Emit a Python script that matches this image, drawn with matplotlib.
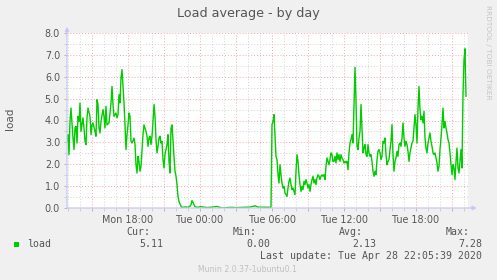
#!/usr/bin/env python3
# -*- coding: utf-8 -*-
"""
Munin style load average graph, by day
"""
import matplotlib
matplotlib.use("Agg")
import matplotlib.pyplot as plt
from matplotlib.ticker import MultipleLocator, FuncFormatter

W, H = 497, 280
START_HOUR = 12 + 55 / 60   # first sample, Mon 12:55
STEP_MIN = 5                # rrd step in minutes
N_STEPS = 401               # width of the graph in steps

# sample number (5 min steps from Mon 12:55) and load value
idx = [0, 1, 2, 3, 4, 6, 7, 8, 9, 10, 11, 12, 13, 14, 16, 17, 18, 19, 20, 21,
       23, 24, 25, 26, 28, 29, 30, 31, 32, 33, 34, 36, 37, 38, 39, 40, 42, 43,
       44, 45, 46, 47, 49, 50, 51, 52, 53, 54, 55, 56, 57, 58, 59, 60, 61, 62,
       63, 64, 65, 67, 68, 69, 70, 71, 72, 73, 74, 75, 76, 77, 79, 80, 81, 82,
       83, 84, 85, 86, 87, 88, 89, 90, 91, 92, 93, 94, 95, 96, 97, 98, 100,
       101, 102, 103, 104, 105, 106, 107, 108, 109, 110, 111, 112, 114, 115,
       119, 121, 123, 124, 125, 127, 128, 130, 134, 140, 145, 150, 155, 163,
       170, 176, 183, 188, 191, 200, 204,
       205, 206, 207, 208, 209, 210, 211, 212, 213, 214, 215, 216, 217, 218,
       219, 220, 221, 222, 223, 224, 225, 226, 227, 228, 229, 230, 231, 232,
       233, 234, 235, 236, 237, 238, 239, 240, 241, 242, 243, 244, 245, 246,
       247, 248, 249, 250, 251, 252, 253, 254, 255, 256, 257, 258, 259, 260,
       261, 262, 263, 264, 265, 266,
       267, 268, 269, 270, 271, 272, 273, 274, 275, 276, 277, 278, 279, 280,
       281, 282, 283, 284, 285, 286, 287, 288, 289, 290, 291, 292, 293, 294,
       295, 296, 297, 298, 299, 300, 301, 302, 303, 304, 305, 306, 307, 308,
       309, 310, 311, 312, 313, 314, 315, 316, 317, 318, 319, 320, 321, 322,
       323, 324, 325, 326, 327, 328, 329, 330, 331, 332, 333, 334, 335, 336,
       337, 338, 339, 340, 341, 342, 343, 344, 345, 346, 347, 348, 349, 350,
       351, 352, 353, 354, 355, 356, 357, 358, 359, 360, 361, 362, 363, 364,
       365, 366, 367, 368, 369, 370, 371, 372, 373, 374, 375, 376, 377, 378,
       379, 380, 381, 382, 383, 384, 385, 386, 387, 388, 389, 390, 391, 392,
       393, 394, 395, 396, 397, 398, 399]
load = [3.05, 3.35, 2.44, 3.96, 4.57, 3.2, 2.67, 3.66, 3.73, 2.97, 4.19, 3.96,
        4.8, 3.5, 4.12, 3.66, 3.05, 2.9, 4.12, 4.57, 4.19, 3.35, 3.8, 3.89,
        3.5, 3.28, 4.95, 4.73, 3.66, 3.43, 3.96, 4.5, 4.19, 3.66, 4.65, 3.8,
        3.89, 4.34, 4.8, 5.56, 4.73, 4.19, 4.34, 4.12, 4.27, 5.18, 4.8, 5.95,
        6.33, 5.56, 4.8, 3.8, 2.67, 3.35, 3.8, 4.34, 4.19, 3.05, 2.97, 3.2,
        2.9, 1.98, 1.6, 2.36, 2.13, 1.68, 1.9, 2.59, 3.35, 3.8, 3.5, 3.28,
        2.82, 3.2, 3.28, 2.9, 3.28, 3.96, 4.73, 4.19, 3.13, 2.52, 2.82, 3.2,
        3.28, 2.97, 3.05, 2.21, 1.83, 2.44, 2.9, 3.35, 2.13, 1.6, 3.66, 3.8,
        3.05, 2.36, 1.68, 1.45, 1.07, 0.53, 0.3, 0.08, 0.03, 0.05, 0.03, 0.08,
        0.15, 0.34, 0.15, 0.06, 0.03, 0.06, 0.02, 0.04, 0.07, 0.0, 0.03, 0.02,
        0.03, 0.04, 0.1, 0.04, 0.03, 0.03,
        3.81, 3.96, 4.27, 3.35, 2.36, 2.21, 1.52, 1.14, 1.98, 1.52, 1.14, 0.91,
        0.99, 0.69, 0.61, 0.53, 0.91, 1.22, 1.37, 1.07, 0.84, 0.91, 0.76, 0.61,
        1.68, 2.44, 2.13, 1.52, 1.07, 0.76, 0.99, 0.84, 1.22, 1.07, 1.3, 1.14,
        0.91, 1.07, 0.76, 1.07, 1.3, 1.45, 1.14, 1.3, 1.07, 1.37, 1.52, 1.45,
        1.3, 1.45, 1.52, 1.45, 1.52, 1.3, 1.91, 2.29, 2.13, 1.98, 2.21, 2.52,
        2.44, 2.13,
        2.13, 2.36, 2.06, 2.52, 2.21, 2.44, 2.13, 2.44, 2.29, 2.21, 2.06, 2.13,
        2.06, 2.13, 1.75, 2.52, 2.97, 3.13, 3.35, 2.97, 4.8, 6.43, 4.88, 2.82,
        2.67, 3.2, 3.5, 4.73, 3.58, 2.52, 2.74, 2.9, 2.44, 2.36, 2.9, 2.52,
        2.36, 2.44, 2.13, 1.68, 1.45, 1.68, 1.52, 2.21, 2.59, 2.67, 2.52, 2.21,
        2.36, 3.05, 2.97, 3.2, 2.44, 1.98, 2.13, 2.21, 2.67, 3.05, 3.81, 2.44,
        1.68, 2.13, 2.29, 2.59, 2.36, 2.9, 2.97, 2.82, 3.2, 3.89, 3.2, 2.82,
        3.05, 2.9, 2.59, 2.13, 2.52, 2.74, 2.97, 3.05, 3.66, 4.27, 3.81, 2.97,
        4.57, 5.56, 4.5, 4.04, 4.19, 3.89, 4.42, 3.2, 2.74, 2.52, 2.97, 3.2,
        3.43, 3.05, 2.82, 2.52, 2.44, 2.52, 2.29, 2.06, 1.68, 1.9, 2.67, 3.2,
        3.81, 4.57, 3.66, 3.96, 3.66, 3.43, 3.13, 2.97, 2.52, 1.98, 1.52, 1.98,
        1.83, 1.3, 2.13, 2.74, 1.83, 1.6, 2.13, 2.67, 1.83, 5.18, 6.78, 7.28,
        5.11]

stat_names = ["Cur:", "Min:", "Avg:", "Max:"]
stat_values = ["5.11", "0.00", "2.13", "7.28"]
last_update = "Last update: Tue Apr 28 22:05:39 2020"

TEXT = "#555555"
MGRID = "#F3A6A6"
GRID = "#D4D4D4"
AXIS = "#C4C8F4"
GREEN = "#00CC00"


def px(x, y):
    # pixel position -> figure fraction
    return x / W, 1 - y / H


def hour_label(t, pos):
    t = round(t, 3)
    if t % 6 != 0:
        return ""
    day = "Mon" if t < 24 else "Tue"
    return "%s %02d:00" % (day, int(t) % 24)


def main():
    fig = plt.figure(figsize=(W / 100, H / 100), dpi=100, facecolor="#F0F0F0")
    ax = fig.add_axes([67 / W, 72 / H, 401 / W, 175 / H])
    ax.set_facecolor("white")

    t = [START_HOUR + i * STEP_MIN / 60 for i in idx]
    ax.plot(t, load, color=GREEN, lw=1.0, zorder=3)

    ax.set_xlim(START_HOUR, START_HOUR + N_STEPS * STEP_MIN / 60)
    ax.set_ylim(0, 8)

    ax.xaxis.set_major_locator(MultipleLocator(3))
    ax.xaxis.set_minor_locator(MultipleLocator(1))
    ax.xaxis.set_major_formatter(FuncFormatter(hour_label))
    ax.yaxis.set_major_locator(MultipleLocator(1))
    ax.yaxis.set_minor_locator(MultipleLocator(0.5))
    ax.yaxis.set_major_formatter(FuncFormatter(lambda v, p: "%.1f" % v))

    ax.grid(which="minor", color=GRID, ls=(0, (1, 2)), lw=0.7)
    ax.grid(which="major", color=MGRID, ls=(0, (1, 2)), lw=0.7)
    ax.set_axisbelow(True)

    ax.tick_params(which="both", length=2, width=0.6, color="#C8A0A0",
                   labelsize=6.9, labelcolor=TEXT, pad=3)
    ax.tick_params(which="minor", color="#C8C8C8")
    for side in ["top", "right", "left", "bottom"]:
        ax.spines[side].set_visible(False)

    # axis lines with arrows
    ax.annotate("", xy=(1.022, 0), xytext=(0, 0), xycoords="axes fraction",
                arrowprops=dict(arrowstyle="-|>", color=AXIS, lw=0.9,
                                mutation_scale=6, shrinkA=0, shrinkB=0))
    ax.annotate("", xy=(0, 1.035), xytext=(0, 0), xycoords="axes fraction",
                arrowprops=dict(arrowstyle="-|>", color=AXIS, lw=0.9,
                                mutation_scale=6, shrinkA=0, shrinkB=0))

    fig.text(*px(248, 13), "Load average - by day", ha="center", va="center",
             fontsize=9.2, color=TEXT)
    fig.text(*px(10, 119), "load", ha="center", va="center", rotation=90,
             fontsize=7.5, color=TEXT)
    fig.text(*px(488, 5), "RRDTOOL / TOBI OETIKER", ha="center", va="top",
             rotation=270, fontsize=5.3, color="#C4C4C4")

    # legend
    mono = "DejaVu Sans Mono"
    fig.patches.append(plt.Rectangle(px(14, 247), 5 / W, 5 / H,
                                     transform=fig.transFigure,
                                     color=GREEN, lw=0))
    fig.text(*px(27, 244), "load", ha="left", va="center", family=mono,
             fontsize=7.1, color=TEXT)
    name_x = [150, 257, 363, 470]
    val_x = [163, 270, 376, 482]
    for i in range(len(stat_names)):
        fig.text(*px(name_x[i], 232), stat_names[i], ha="right", va="center",
                 family=mono, fontsize=7.1, color=TEXT)
        fig.text(*px(val_x[i], 244), stat_values[i], ha="right", va="center",
                 family=mono, fontsize=7.1, color=TEXT)
    fig.text(*px(482, 256), last_update, ha="right", va="center",
             family=mono, fontsize=7.1, color=TEXT)
    fig.text(*px(248, 269), "Munin 2.0.37-1ubuntu0.1", ha="center",
             va="center", fontsize=5.6, color="#C0C0C0")

    fig.savefig("out.png", dpi=100, facecolor=fig.get_facecolor())


if __name__ == "__main__":
    main()
